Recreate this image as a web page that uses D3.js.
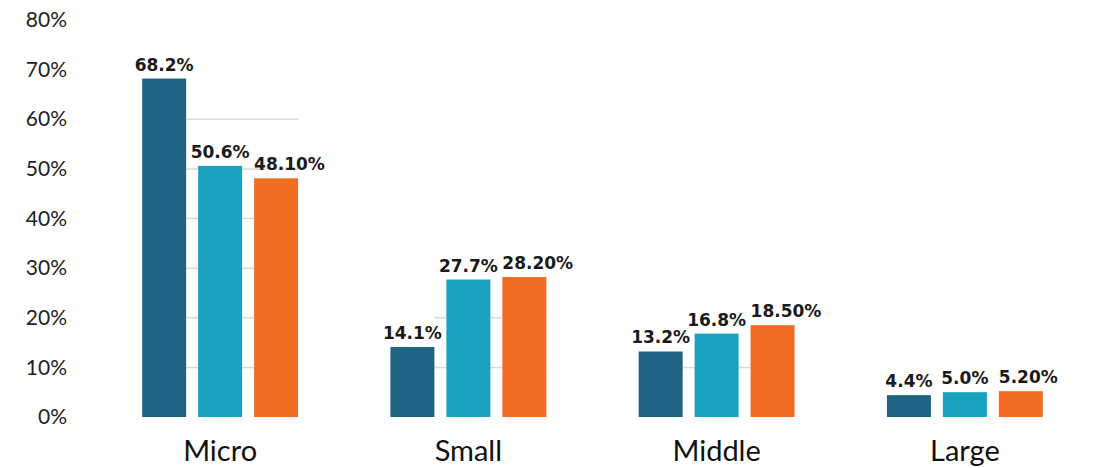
<!DOCTYPE html>
<html>
<head>
<meta charset="utf-8">
<script src="https://cdn.jsdelivr.net/npm/d3@7"></script>
<style>
  html, body { margin: 0; padding: 0; background: #fff; }
  svg { display: block; }
</style>
</head>
<body>
<svg id="chart" width="1112" height="468"></svg>
<script>
// Firm size categories and the three series shown for each
const categories = ["Micro", "Small", "Middle", "Large"];
const seriesKeys = ["s1", "s2", "s3"];
const series1 = [68.2, 14.1, 13.2, 4.4];
const series2 = [50.6, 27.7, 16.8, 5.0];
const series3 = [48.1, 28.2, 18.5, 5.2];
const labels1 = ["68.2%", "14.1%", "13.2%", "4.4%"];
const labels2 = ["50.6%", "27.7%", "16.8%", "5.0%"];
const labels3 = ["48.10%", "28.20%", "18.50%", "5.20%"];
const yTicks = [0, 10, 20, 30, 40, 50, 60, 70, 80];
const colors = ["#1e6482", "#19a1c0", "#f26c23"];

const valuesBySeries = [series1, series2, series3];
const labelsBySeries = [labels1, labels2, labels3];

const svg = d3.select("#chart");

const y = d3.scaleLinear().domain([0, 80]).range([417, 20]);

const x0 = d3.scaleBand()
  .domain(categories)
  .range([96, 1089])
  .paddingInner(0.372)
  .paddingOuter(0.186);

const x1 = d3.scaleBand()
  .domain(seriesKeys)
  .range([0, x0.bandwidth()])
  .paddingInner(0.214)
  .paddingOuter(0);

// Y axis labels
const yAxis = d3.axisLeft(y)
  .tickValues(yTicks)
  .tickFormat(d => d + "%")
  .tickSize(0)
  .tickPadding(0);

const yg = svg.append("g")
  .attr("transform", "translate(67,0)")
  .call(yAxis);
yg.select(".domain").remove();
yg.selectAll("text")
  .attr("font-family", "Lato, 'Open Sans', sans-serif")
  .attr("font-size", 21)
  .attr("fill", "#222");

const rows = categories.map((c, i) => ({
  cat: c,
  vals: valuesBySeries.map((arr, s) => ({ key: seriesKeys[s], v: arr[i], label: labelsBySeries[s][i], s }))
}));

const groups = svg.append("g").selectAll("g.grp")
  .data(rows)
  .join("g")
  .attr("class", "grp")
  .attr("transform", d => `translate(${x0(d.cat)},0)`);

// faint gridlines inside each group, up to the group's tallest bar
groups.each(function (d) {
  const maxV = d3.max(d.vals, e => e.v);
  const gx0 = x1(seriesKeys[0]) + x1.bandwidth();
  const gx1 = x0.bandwidth();
  d3.select(this).selectAll("line.grid")
    .data(yTicks.filter(t => t > 0 && t <= maxV))
    .join("line")
    .attr("class", "grid")
    .attr("x1", gx0)
    .attr("x2", gx1)
    .attr("y1", t => y(t))
    .attr("y2", t => y(t))
    .attr("stroke", "#d9d9d9")
    .attr("stroke-width", 1.5);
});

groups.selectAll("rect")
  .data(d => d.vals)
  .join("rect")
  .attr("x", d => x1(d.key))
  .attr("y", d => y(d.v))
  .attr("width", x1.bandwidth())
  .attr("height", d => y(0) - y(d.v))
  .attr("fill", d => colors[d.s]);

groups.selectAll("text.val")
  .data(d => d.vals)
  .join("text")
  .attr("class", "val")
  .attr("x", d => d.s === 2 ? x1(d.key) : x1(d.key) + x1.bandwidth() / 2)
  .attr("y", d => y(d.v) - 8)
  .attr("text-anchor", d => d.s === 2 ? "start" : "middle")
  .attr("font-family", "'DejaVu Sans', sans-serif")
  .attr("font-weight", "bold")
  .attr("font-size", 17)
  .attr("fill", "#1a1a1a")
  .text(d => d.label);

// Category labels below the bars
svg.append("g").selectAll("text.cat")
  .data(categories)
  .join("text")
  .attr("class", "cat")
  .attr("x", d => x0(d) + x0.bandwidth() / 2)
  .attr("y", 461)
  .attr("text-anchor", "middle")
  .attr("font-family", "Lato, 'Open Sans', sans-serif")
  .attr("font-size", 29)
  .attr("fill", "#111")
  .text(d => d);
</script>
</body>
</html>
